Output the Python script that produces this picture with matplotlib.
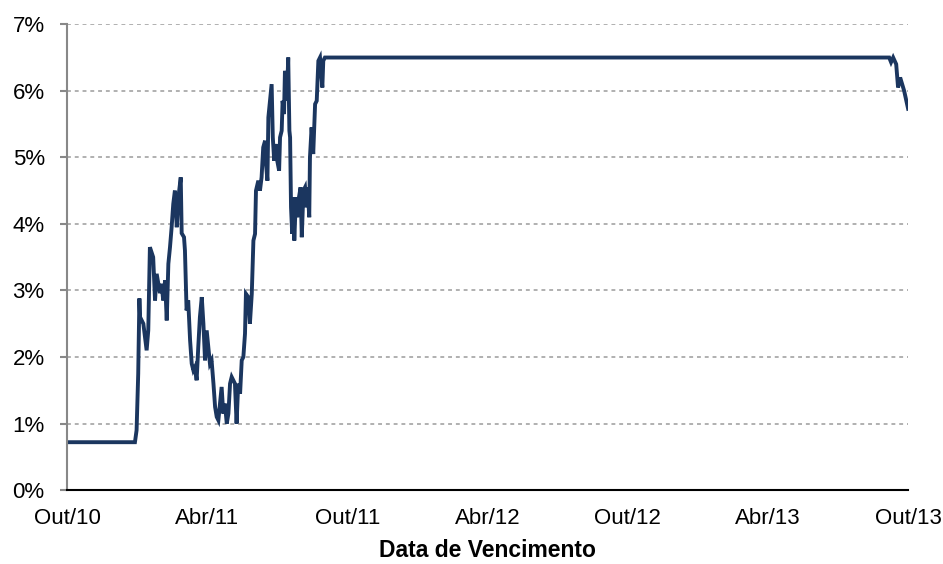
import matplotlib.pyplot as plt

plt.rcParams['font.family'] = ['Liberation Sans', 'DejaVu Sans']

# months since Out/10 and value in %
meses = [0, 2.91, 2.98, 3.05, 3.10, 3.13, 3.27, 3.41, 3.48, 3.55, 3.69, 3.77, 3.84,
         3.98, 4.05, 4.12, 4.20, 4.27, 4.34, 4.41, 4.48, 4.55, 4.62, 4.70, 4.77,
         4.87, 4.91, 5.01, 5.05, 5.12, 5.19, 5.27, 5.34, 5.41, 5.48, 5.55, 5.62,
         5.69, 5.77, 5.84, 5.91, 5.98, 6.05, 6.12, 6.19, 6.27, 6.34, 6.41, 6.48,
         6.55, 6.62, 6.69, 6.76, 6.84, 6.91, 6.98, 7.05, 7.12, 7.19, 7.26, 7.33,
         7.41, 7.48, 7.55, 7.62, 7.66, 7.76, 7.83, 7.91, 7.98, 8.05, 8.09, 8.19,
         8.26, 8.33, 8.40, 8.48, 8.52, 8.58, 8.62, 8.69, 8.76, 8.81, 8.87, 8.93,
         9.00, 9.08, 9.12, 9.19, 9.23, 9.29, 9.33, 9.41, 9.47, 9.52, 9.55, 9.59,
         9.64, 9.69, 9.73, 9.80, 9.86, 9.93, 10.00, 10.05, 10.12, 10.19, 10.26,
         10.30, 10.37, 10.40, 10.47, 10.54, 10.62, 10.69, 10.76, 10.83, 10.93,
         10.97, 11.04, 35.19, 35.27, 35.36, 35.49, 35.57, 35.66, 35.83, 36.0]
taxa = [0.72, 0.72, 0.9, 1.75, 2.88, 2.6, 2.5, 2.1, 2.4, 3.65, 3.5, 2.85, 3.25,
        2.96, 3.1, 2.85, 3.15, 2.55, 3.4, 3.65, 3.95, 4.3, 4.5, 3.95, 4.4,
        4.7, 3.86, 3.8, 3.6, 2.7, 2.85, 2.25, 1.9, 1.8, 1.85, 1.65, 2.15,
        2.6, 2.9, 2.5, 1.95, 2.4, 2.15, 1.9, 1.95, 1.6, 1.25, 1.1, 1.05,
        1.3, 1.55, 1.15, 1.3, 1.0, 1.15, 1.6, 1.7, 1.65, 1.6, 1.0, 1.6,
        1.45, 1.95, 2.0, 2.35, 2.95, 2.9, 2.5, 2.95, 3.75, 3.85, 4.5, 4.65,
        4.5, 4.7, 5.15, 5.25, 4.9, 4.65, 5.6, 5.85, 6.1, 5.3, 4.95, 5.2,
        4.95, 4.8, 5.3, 5.4, 5.85, 5.65, 6.3, 5.85, 6.5, 5.4, 5.3, 4.25,
        3.85, 4.4, 3.75, 4.4, 4.1, 4.4, 4.55, 3.8, 4.5, 4.55, 4.25,
        4.55, 4.1, 5.0, 5.45, 5.05, 5.8, 5.85, 6.45, 6.5, 6.05,
        6.45, 6.5, 6.5, 6.43, 6.5, 6.4, 6.05, 6.2, 6.0, 5.73]

xticks = [0, 6, 12, 18, 24, 30, 36]
xlabels = ['Out/10', 'Abr/11', 'Out/11', 'Abr/12', 'Out/12', 'Abr/13', 'Out/13']
yticks = [0, 1, 2, 3, 4, 5, 6, 7]

fig = plt.figure(figsize=(9.43, 5.64), dpi=100)
ax = fig.add_axes([0.071, 0.131, 0.892, 0.826])
ax.plot(meses, taxa, color='#1b365f', lw=2.8, solid_joinstyle='miter')

ax.set_xlim(0, 36)
ax.set_ylim(0, 7)
ax.set_xticks(xticks)
ax.set_xticklabels(xlabels)
ax.set_yticks(yticks)
ax.set_yticklabels(['%d%%' % v for v in yticks])
ax.tick_params(axis='x', length=0, labelsize=16, pad=13)
ax.tick_params(axis='y', length=5, width=1.5, color='#888888', labelsize=16, pad=11)
ax.yaxis.grid(True, ls=(0, (2, 2)), color='#b0b0b0', lw=1.4)
ax.set_axisbelow(True)
for s in ['top', 'right']:
    ax.spines[s].set_visible(False)
ax.spines['left'].set_color('#888888')
ax.spines['left'].set_linewidth(1.5)
ax.spines['bottom'].set_color('black')
ax.spines['bottom'].set_linewidth(1.5)
ax.set_xlabel('Data de Vencimento', fontsize=16.5, fontweight='bold', labelpad=7)

fig.savefig('out.png', dpi=100)
